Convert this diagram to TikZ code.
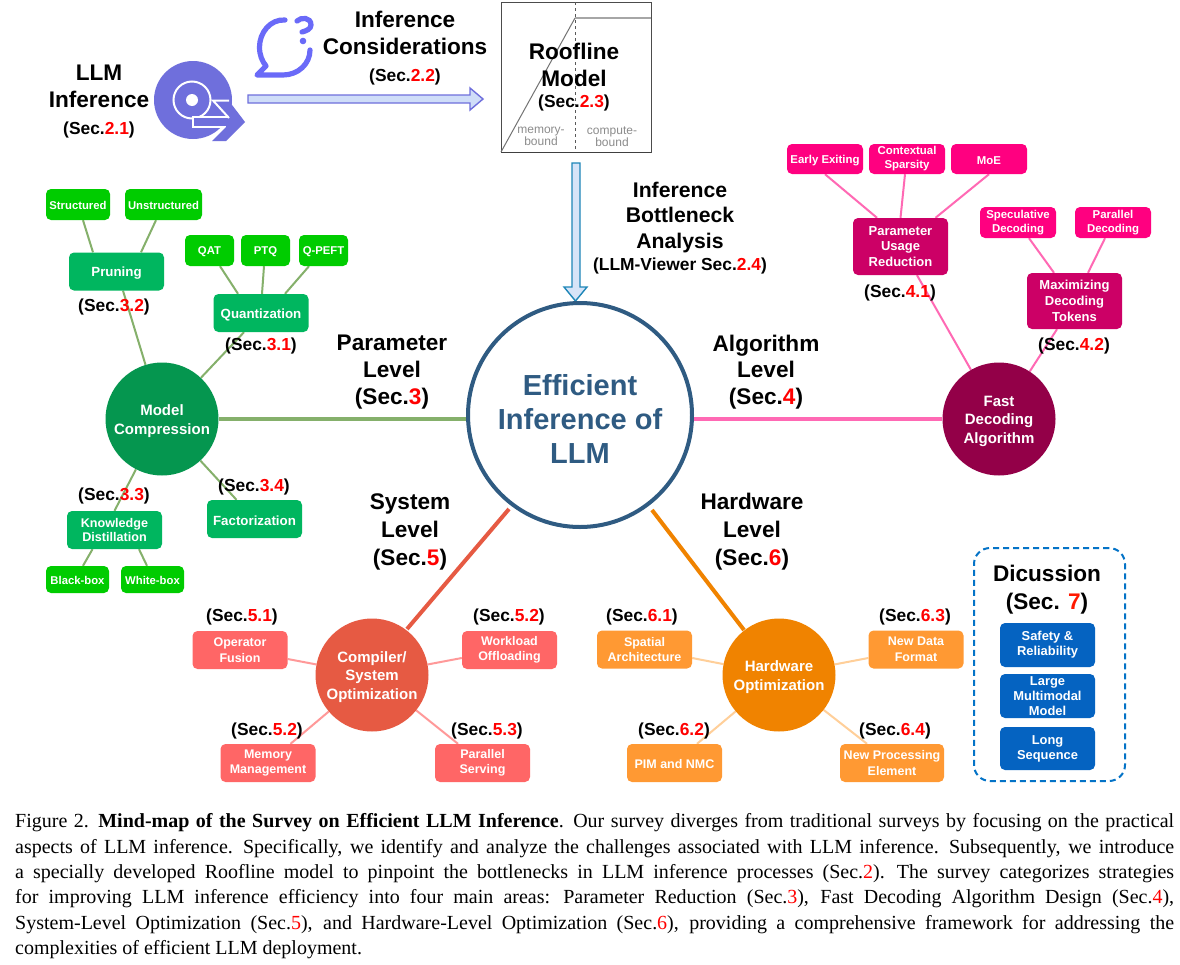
\documentclass[tikz,border=0pt]{standalone}
\usepackage{fontspec}
\setmainfont{Liberation Serif}
\setsansfont{Liberation Sans}
\usetikzlibrary{backgrounds,calc}
\definecolor{gbox}{HTML}{00B65F}
\definecolor{gleaf}{HTML}{00CC00}
\definecolor{gcirc}{HTML}{05964F}
\definecolor{gline}{HTML}{85B06B}
\definecolor{pbox}{HTML}{CC0066}
\definecolor{pleaf}{HTML}{FF0080}
\definecolor{pcirc}{HTML}{930048}
\definecolor{pline}{HTML}{FF69B4}
\definecolor{cbox}{HTML}{FF6666}
\definecolor{ccirc}{HTML}{E65A43}
\definecolor{cline}{HTML}{FF9999}
\definecolor{obox}{HTML}{FF9933}
\definecolor{ocirc}{HTML}{F08300}
\definecolor{oline}{HTML}{FFCF99}
\definecolor{dblue}{HTML}{0563C1}
\definecolor{navy}{HTML}{2F5B82}
\definecolor{iconp}{HTML}{6F6FDC}
\definecolor{iconq}{HTML}{6A6AF8}
\definecolor{arrfill}{HTML}{CFDDF8}
\definecolor{arrdown}{HTML}{1E86B8}
\definecolor{arrdfill}{HTML}{D6E4F8}
\newcommand{\rd}[1]{\textcolor{red}{#1}}
\newcommand{\fsz}[2]{\fontsize{#1}{#2}\selectfont}
\newcommand{\capline}[1]{\hbox to 1159pt{#1}}
\newcommand{\hubpad}{\mbox{}\\[-3.3pt]}
\tikzset{
  x=1pt,y=-1pt,
  boxbase/.style={rounded corners=5pt,inner sep=0pt,align=center,text=white,execute at begin node={\rule{0pt}{0.96em}},font=\sffamily\bfseries\fsz{12.5}{15.5}},
  gb/.style={boxbase,fill=gbox,minimum width=95pt,minimum height=38pt,font=\sffamily\bfseries\fsz{13.3}{15}},
  gl/.style={boxbase,fill=gleaf,font=\sffamily\bfseries\fsz{11.3}{14}},
  pb/.style={boxbase,fill=pbox,minimum width=95pt,minimum height=57pt,execute at begin node={\rule{0pt}{1.1em}},font=\sffamily\bfseries\fsz{13}{15.8}},
  pl/.style={boxbase,fill=pleaf,font=\sffamily\bfseries\fsz{11.4}{14}},
  cb/.style={boxbase,fill=cbox,minimum width=95pt,minimum height=38pt,font=\sffamily\bfseries\fsz{12.5}{15.5}},
  ob/.style={boxbase,fill=obox,minimum width=95pt,minimum height=38pt,font=\sffamily\bfseries\fsz{12.5}{15.5}},
  db/.style={boxbase,fill=dblue,minimum width=95pt,minimum height=44pt,font=\sffamily\bfseries\fsz{12.9}{15}},
  hub/.style={circle,minimum size=113pt,inner sep=0pt,align=center,text=white,font=\sffamily\bfseries\fsz{15}{18.3}},
  sec/.style={inner sep=0pt,align=center,yshift=-1.5pt,font=\sffamily\bfseries\fsz{17.4}{20}},
  lv/.style={inner sep=0pt,align=center,yshift=-1.5pt,font=\sffamily\bfseries\fsz{22.6}{27}},
  ggl/.style={draw=gline,line width=2pt},
  ppl/.style={draw=pline,line width=2pt},
  ccl/.style={draw=cline,line width=2pt},
  ool/.style={draw=oline,line width=2pt},
}
\begin{document}
\begin{tikzpicture}
\useasboundingbox (0,0) rectangle (1180,964);

% roofline plot
\coordinate (rtl) at (501,2);
\coordinate (rbr) at (651,152);
\coordinate (rdt) at (575,2);
\coordinate (rdb) at (575,152);
\draw[line width=0.8pt,black!70] (rtl) rectangle (rbr);
\draw[line width=1pt,black!55] (501,152) -- (575,18);
\draw[line width=1.6pt,black!35] (575,18) -- (651,18);
\draw[line width=1pt,black!65,dashed] (rdt) -- (rdb);
\draw[line width=1pt,black!75] (501,152) -- (651,152);
\node[inner sep=0pt,align=center,text=black!45,font=\sffamily\fsz{12}{12.5}] (membd) at (541,136.5) {memory-\\bound};
\node[inner sep=0pt,align=center,text=black!45,font=\sffamily\fsz{12}{12.5}] (cmpbd) at (612,136.5) {compute-\\bound};
\node[lv] (roof) at (574,63.5) {Roofline\\Model};
\node[sec] (s23) at (574,101) {(Sec.\rd{2.3})};

% icons
\fill[iconp] (193,100) circle (39);
\draw[white,line width=2pt] (192,100) circle (18.5);
\fill[white] (192,100) circle (6);
\fill[iconp] (193,117) rectangle (230,127);
\draw[white,line width=2pt,line join=miter] (230,117) -- (193,117) -- (193,127) -- (226,127);
\fill[iconp] (214,101) -- (229,101) -- (245,122) -- (226,141) -- (212,141) -- (229,124) -- (229,118) -- cycle;
\draw[white,line width=2pt] (229,100.5) -- (213,100.5) -- (229,118);
\draw[iconq,line width=5.2pt,line cap=round,line join=round]
  (285,20) .. controls (270,19) and (259.5,33) .. (259.5,47)
  .. controls (259.5,55) and (262,61) .. (266,66)
  -- (257,75) -- (283,75)
  .. controls (298,75) and (310,64) .. (310,50);
\draw[iconq,line width=5.2pt,line cap=round]
  (297,21) .. controls (301,17) and (311,17) .. (311,25) .. controls (311,29) and (306,31) .. (302,32);
\fill[iconq] (303,41) circle (3.3);

\node[lv] (llm) at (99,85) {LLM\\Inference};
\node[sec] (s21) at (99,128) {(Sec.\rd{2.1})};
\node[lv] (ic) at (405,31) {Inference\\Considerations};
\node[sec] (s22) at (405,75) {(Sec.\rd{2.2})};

% arrows
\coordinate (a1s) at (248,99);
\coordinate (a1e) at (483,99);
\draw[draw=iconp,fill=arrfill,line width=1.4pt,line join=miter]
  (248,95) -- (470,95) -- (470,88) -- (483,99) -- (470,110) -- (470,103) -- (248,103) -- cycle;
\draw[draw=arrdown,fill=arrdfill,line width=1.4pt,line join=miter]
  (572,163) -- (580,163) -- (580,287) -- (587,287) -- (575.5,301) -- (564,287) -- (572,287) -- cycle;

\node[lv,font=\sffamily\bfseries\fsz{21.2}{25.5}] (ib) at (680,216) {Inference\\Bottleneck\\Analysis};
\node[sec] (s24) at (680,264) {(LLM-Viewer Sec.\rd{2.4})};

% centre
\node[circle,draw=navy,line width=4pt,fill=white,minimum size=224pt,inner sep=0pt] (eff) at (580,415) {};
\node[inner sep=0pt,align=center,text=navy,font=\sffamily\bfseries\fsz{29}{34}] (efft) at (580,419) {Efficient\\Inference of\\LLM};

% hubs
\node[hub,fill=gcirc] (mc) at (162,419) {\hubpad Model\\Compression};
\node[hub,fill=pcirc] (fd) at (999,419) {\hubpad Fast\\Decoding\\Algorithm};
\node[hub,fill=ccirc] (cs) at (372,675) {\hubpad Compiler/\\System\\Optimization};
\node[hub,fill=ocirc] (hw) at (779,675) {\hubpad Hardware\\Optimization};

% green
\node[gb] (prun) at (116.5,271.5) {Pruning};
\node[gb] (quan) at (261,313) {Quantization};
\node[gb,font=\sffamily\bfseries\fsz{12.6}{14.7}] (kd) at (114.5,530) {Knowledge\\Distillation};
\node[gb] (fac) at (254.5,519) {Factorization};
\node[gl,minimum width=64pt,minimum height=31pt] (stru) at (78,204.5) {Structured};
\node[gl,minimum width=77pt,minimum height=31pt] (unst) at (163.5,204.5) {Unstructured};
\node[gl,minimum width=49pt,minimum height=31pt] (qat) at (209.5,250.5) {QAT};
\node[gl,minimum width=49pt,minimum height=31pt] (ptq) at (265.5,250.5) {PTQ};
\node[gl,minimum width=49pt,minimum height=31pt] (qpe) at (323.5,250.5) {Q-PEFT};
\node[gl,minimum width=63pt,minimum height=27pt] (bb) at (77.5,579.5) {Black-box};
\node[gl,minimum width=63pt,minimum height=27pt] (wb) at (152.5,579.5) {White-box};

% pink
\node[pb] (pur) at (900.5,246.5) {Parameter\\Usage\\Reduction};
\node[pb,minimum height=56pt] (mdt) at (1074.5,301) {Maximizing\\Decoding\\Tokens};
\node[pl,minimum width=76pt,minimum height=30pt] (ee) at (825,159) {Early Exiting};
\node[pl,minimum width=76pt,minimum height=30pt] (ctx) at (907,159) {Contextual\\Sparsity};
\node[pl,minimum width=76pt,minimum height=30pt] (moe) at (989,159) {MoE};
\node[pl,minimum width=76pt,minimum height=31pt] (spec) at (1018,222.5) {Speculative\\Decoding};
\node[pl,minimum width=76pt,minimum height=31pt] (pard) at (1113,222.5) {Parallel\\Decoding};

% coral
\node[cb] (opf) at (240,650) {Operator\\Fusion};
\node[cb] (wlo) at (509.5,650) {Workload\\Offloading};
\node[cb] (mem) at (268,763) {Memory\\Management};
\node[cb] (pars) at (482.5,763) {Parallel\\Serving};

% orange
\node[ob] (spa) at (644.5,649.5) {Spatial\\Architecture};
\node[ob] (ndf) at (916,649.5) {New Data\\Format};
\node[ob] (pim) at (674.5,763) {PIM and NMC};
\node[ob,minimum width=104pt] (npe) at (892,763) {New Processing\\Element};

% connectors
\begin{scope}[on background layer]
  \fill[white] (0,0) rectangle (1180,964);
  \draw[ggl,line width=3.5pt] (mc.east) -- (mc.east -| eff.west);
  \draw[ppl,line width=3.5pt] (fd.west) -- (fd.west -| eff.east);
  \draw[draw=ccirc,line width=4pt] ($(cs.center)+(35,-46)$) -- ($(eff.center)+(-71,94)$);
  \draw[draw=ocirc,line width=4pt] ($(hw.center)+(-35,-45)$) -- ($(eff.center)+(72,95)$);
  \draw[ggl] ($(prun.south)+(6.5,0)$) -- (mc);
  \draw[ggl] ($(quan.south)+(-17,0)$) -- (mc);
  \draw[ggl] (kd.north) -- (mc);
  \draw[ggl] ($(fac.north)+(-18,0)$) -- (mc);
  \draw[ggl] ($(stru.south)+(5,0)$) -- ($(prun.north)+(-23.5,0)$);
  \draw[ggl] ($(unst.south)+(-7.5,0)$) -- ($(prun.north)+(24.5,0)$);
  \draw[ggl] ($(qat.south)+(10.5,0)$) -- ($(quan.north)+(-23,0)$);
  \draw[ggl] ($(ptq.south)+(-1.5,0)$) -- ($(quan.north)+(1,0)$);
  \draw[ggl] ($(qpe.south)+(-14.5,0)$) -- ($(quan.north)+(24,0)$);
  \draw[ggl] ($(kd.south)+(-22,0)$) -- ($(bb.north)+(5.5,0)$);
  \draw[ggl] ($(kd.south)+(24.5,0)$) -- ($(wb.north)+(-5.5,0)$);
  \draw[ppl] ($(pur.south)+(16.5,0)$) -- (fd);
  \draw[ppl] ($(mdt.south)+(-17.5,0)$) -- (fd);
  \draw[ppl] (ee.south) -- ($(pur.north)+(-23.5,0)$);
  \draw[ppl] ($(ctx.south)+(-2,0)$) -- (pur.north);
  \draw[ppl] (moe.south) -- ($(pur.north)+(35,0)$);
  \draw[ppl] ($(spec.south)+(11,0)$) -- ($(mdt.north)+(-20.5,0)$);
  \draw[ppl] ($(pard.south)+(-8,0)$) -- ($(mdt.north)+(13.5,0)$);
  \draw[ccl] ($(opf.east)+(0,9)$) -- (cs);
  \draw[ccl] ($(wlo.west)+(0,8)$) -- (cs);
  \draw[ccl] ($(mem.north)+(22.5,0)$) -- (cs);
  \draw[ccl] ($(pars.north)+(-24.5,0)$) -- (cs);
  \draw[ool] ($(spa.east)+(0,8.5)$) -- (hw);
  \draw[ool] ($(ndf.west)+(0,8.5)$) -- (hw);
  \draw[ool] ($(pim.north)+(22.5,0)$) -- (hw);
  \draw[ool] ($(npe.north)+(-25,0)$) -- (hw);
\end{scope}

% section labels
\node[sec] (s32) at (114,305) {(Sec.\rd{3.2})};
\node[sec] (s31) at (261,344) {(Sec.\rd{3.1})};
\node[sec] (s33) at (114,494) {(Sec.\rd{3.3})};
\node[sec] (s34) at (254,485) {(Sec.\rd{3.4})};
\node[sec] (s41) at (900,291) {(Sec.\rd{4.1})};
\node[sec] (s42) at (1074,344) {(Sec.\rd{4.2})};
\node[sec] (s51) at (242,615) {(Sec.\rd{5.1})};
\node[sec] (s52a) at (509,615) {(Sec.\rd{5.2})};
\node[sec] (s52b) at (267,729) {(Sec.\rd{5.2})};
\node[sec] (s53) at (487,729) {(Sec.\rd{5.3})};
\node[sec] (s61) at (642,615) {(Sec.\rd{6.1})};
\node[sec] (s63) at (915,615) {(Sec.\rd{6.3})};
\node[sec] (s62) at (674,729) {(Sec.\rd{6.2})};
\node[sec] (s64) at (895,729) {(Sec.\rd{6.4})};

\node[lv,font=\sffamily\bfseries\fsz{22.6}{26.7}] (lvp) at (392,370.5) {Parameter\\Level\\(Sec.\rd{3})};
\node[lv,font=\sffamily\bfseries\fsz{22.6}{26.7}] (lva) at (766,370.5) {Algorithm\\Level\\(Sec.\rd{4})};
\node[lv,font=\sffamily\bfseries\fsz{22.6}{28}] (lvs) at (410,530) {System\\Level\\(Sec.\rd{5})};
\node[lv,font=\sffamily\bfseries\fsz{22.6}{28}] (lvh) at (752,530) {Hardware\\Level\\(Sec.\rd{6})};

% discussion
\node[draw=dblue!90!cyan,line width=2pt,dash pattern=on 6pt off 4pt,rounded corners=16pt,minimum width=151pt,minimum height=233pt,inner sep=0pt] (dbox) at (1049.5,664.5) {};
\node[lv,font=\sffamily\bfseries\fsz{22.6}{28}] (dict) at (1047,588) {Dicussion\\(Sec. \textcolor{red!80!orange}{7})};
\node[db] (safe) at (1047.5,645) {Safety \&\\Reliability};
\node[db] (lmm) at (1047.5,696) {Large\\Multimodal\\Model};
\node[db,minimum height=43pt] (lon) at (1047.5,748.5) {Long\\Sequence};

% caption
\node[anchor=north west,inner sep=0pt,text width=1159pt,font=\rmfamily\fsz{20}{25.4}] (cap) at (15,813.5) {\spaceskip=0.25em plus 0.2em minus 0.09em \xspaceskip=0.4em plus 0.2em minus 0.12em
\capline{Figure 2. \textbf{Mind-map of the Survey on Efficient LLM Inference}. Our survey diverges from traditional surveys by focusing on the practical}
\capline{aspects of LLM inference. Specifically, we identify and analyze the challenges associated with LLM inference. Subsequently, we introduce}
\capline{a specially developed Roofline model to pinpoint the bottlenecks in LLM inference processes (Sec.\rd{2}). The survey categorizes strategies}
\capline{for improving LLM inference efficiency into four main areas: Parameter Reduction (Sec.\rd{3}), Fast Decoding Algorithm Design (Sec.\rd{4}),}
\capline{System-Level Optimization (Sec.\rd{5}), and Hardware-Level Optimization (Sec.\rd{6}), providing a comprehensive framework for addressing the}
\hbox{complexities of efficient LLM deployment.}};
\end{tikzpicture}
\end{document}
